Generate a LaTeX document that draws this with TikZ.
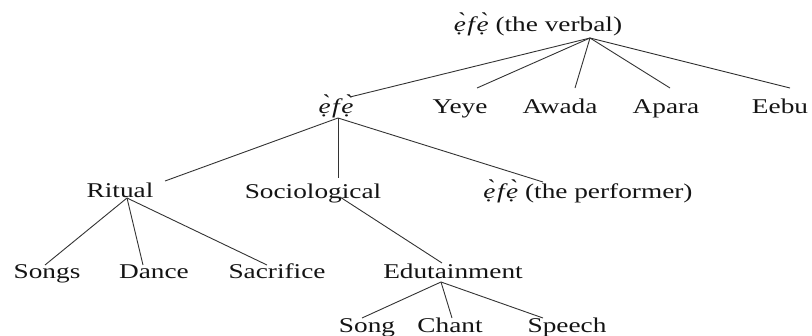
\documentclass[tikz,border=0pt]{standalone}
\usepackage{fontspec}
\setmainfont[FakeStretch=1.3]{Liberation Serif}
\usepackage{tikz}
\usetikzlibrary{positioning}
\definecolor{tline}{HTML}{333333}
\definecolor{ttext}{HTML}{141414}
\newcommand{\efe}{\textit{è^^^^0323\kern1.5pt f\kern1.5pt è^^^^0323}}
\tikzset{
  term/.style={anchor=base, inner sep=1pt, text=ttext, font=\fontsize{21}{24}\selectfont},
  edge/.style={draw=tline, line width=0.9pt},
}

\begin{document}
\begin{tikzpicture}[x=1pt, y=-1pt]
  \useasboundingbox (0,0) rectangle (812,335);
  % top level
  \node[term] (root) at (538,31) {\efe{} (the verbal)};
  % second level
  \node[term] (efe)   at (336,113) {\efe};
  \node[term] (yeye)  at (460,113) {Yeye};
  \node[term] (awada) at (560,113) {Awada};
  \node[term] (apara) at (666,113) {Apara};
  \node[term] (eebu)  at (780,113) {Eebu};
  % third level
  \node[term] (ritual) at (120,197) {Ritual};
  \node[term] (socio)  at (313,198) {Sociological};
  \node[term] (perf)   at (588,198) {\efe{} (the performer)};
  % fourth level
  \node[term] (songs) at (47,278)  {Songs};
  \node[term] (dance) at (154,278) {Dance};
  \node[term] (sacr)  at (277,278) {Sacrifice};
  \node[term] (edu)   at (453,278) {Edutainment};
  % fifth level
  \node[term] (song)   at (367,332) {Song};
  \node[term] (chant)  at (450,332) {Chant};
  \node[term] (speech) at (567,332) {Speech};

  % branching points under each parent
  \coordinate (hroot) at ([shift={(52,7)}]root.base);
  \coordinate (hefe)  at ([shift={(2,5)}]efe.base);
  \coordinate (hrit)  at ([shift={(7,1)}]ritual.base);
  \coordinate (hsoc)  at ([shift={(27,-1)}]socio.base);
  \coordinate (hedu)  at ([shift={(-12,4)}]edu.base);

  \draw[edge] (hroot) -- ([shift={(14,-16)}]efe.base);
  \foreach \n/\dx in {yeye/17, awada/15, apara/4, eebu/10}
    \draw[edge] (hroot) -- ([shift={(\dx,-25)}]\n.base);
  \draw[edge] (hefe) -- ([shift={(45,-16)}]ritual.base);
  \draw[edge] (hefe) -- ([shift={(25,-20)}]socio.base);
  \draw[edge] (hefe) -- ([shift={(-45,-16)}]perf.base);
  \foreach \n/\dx in {songs/-2, dance/-11, sacr/-10}
    \draw[edge] (hrit) -- ([shift={(\dx,-13)}]\n.base);
  \draw[edge] (hsoc) -- ([shift={(-11,-15)}]edu.base);
  \foreach \n/\dx in {song/-5, chant/2, speech/-24}
    \draw[edge] (hedu) -- ([shift={(\dx,-14)}]\n.base);
\end{tikzpicture}
\end{document}
